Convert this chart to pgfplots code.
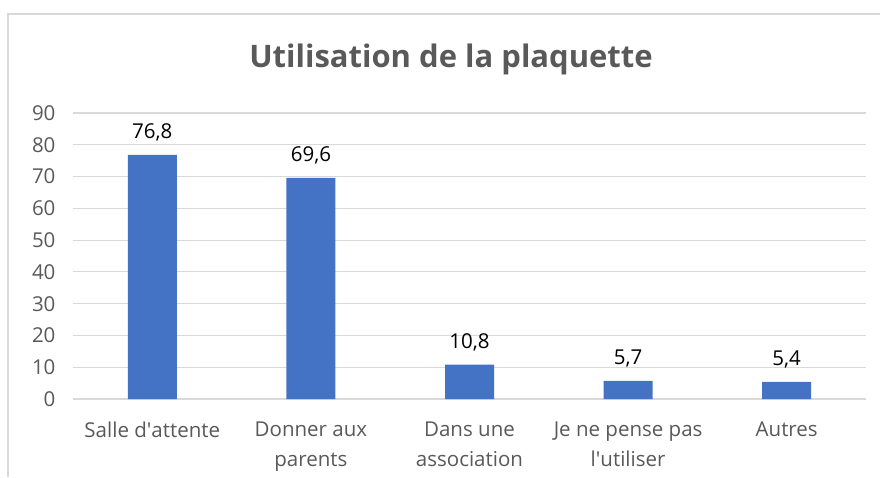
\documentclass[border=0pt]{standalone}
\usepackage{pgfplots}
\pgfplotsset{compat=1.18}
\usepackage{fontspec}
\setmainfont{Open Sans}
\definecolor{barblue}{HTML}{4472C4}
\definecolor{gridgray}{HTML}{D9D9D9}
\definecolor{txtgray}{HTML}{595959}
\begin{document}
\begin{tikzpicture}[x=1pt,y=1pt]
\path[use as bounding box] (0,0) rectangle (880,477);
\draw[gridgray, line width=1.2pt] (8,0) -- (8,463) -- (880,463);
\node[font=\fontsize{31}{36}\selectfont\bfseries, text=txtgray] at (451,418) {Utilisation de la plaquette};
\begin{axis}[
  at={(73pt,78pt)}, anchor=south west,
  scale only axis, width=793pt, height=286pt,
  xmin=-0.5, xmax=4.5, ymin=0, ymax=90,
  ytick={0,10,...,90},
  xtick=data,
  xticklabels={Salle d\textquotesingle attente, Donner aux\\parents, Dans une\\association, Je ne pense pas\\l\textquotesingle utiliser, Autres},
  axis line style={draw=none},
  major tick length=0pt,
  ymajorgrids, grid style={gridgray, line width=1.2pt},
  ticklabel style={font=\fontsize{20.5}{30}\selectfont, text=txtgray},
  xticklabel style={align=center, anchor=north, yshift=-19pt},
  yticklabel style={anchor=east, xshift=-14pt},
  /pgf/number format/assume math mode=true,
  ybar, bar width=49pt,
  point meta=explicit symbolic,
  nodes near coords,
  nodes near coords style={font=\fontsize{20.5}{24}\selectfont, text=black, anchor=south, yshift=10pt},
]
\addplot[fill=barblue, draw=none] coordinates {
 (0,76.8) [76,8]
 (1,69.6) [69,6]
 (2,10.8) [10,8]
 (3,5.7) [5,7]
 (4,5.4) [5,4]
};
\end{axis}
\end{tikzpicture}
\end{document}
